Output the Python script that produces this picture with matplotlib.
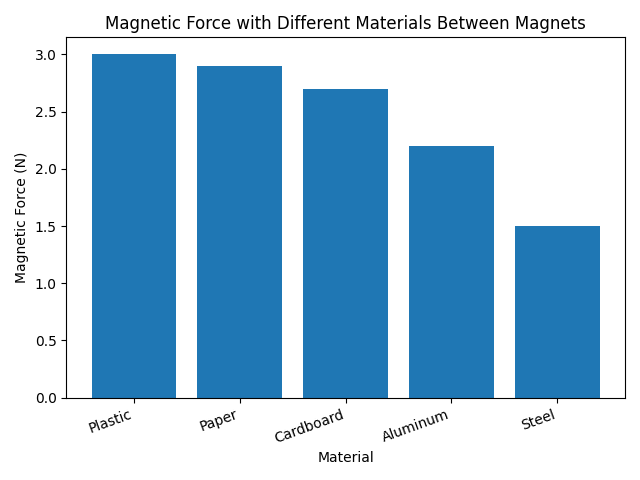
import matplotlib
matplotlib.use("Agg")
import matplotlib.pyplot as plt

materials = ["Plastic", "Paper", "Cardboard", "Aluminum", "Steel"]
force = [3.0, 2.9, 2.7, 2.2, 1.5]

fig, ax = plt.subplots(figsize=(6.4, 4.8), dpi=100)
ax.bar(materials, force, color="#1f77b4")
ax.set_title("Magnetic Force with Different Materials Between Magnets")
ax.set_xlabel("Material")
ax.set_ylabel("Magnetic Force (N)")
plt.setp(ax.get_xticklabels(), rotation=20, ha="right")
fig.tight_layout()
fig.savefig("out.png")
